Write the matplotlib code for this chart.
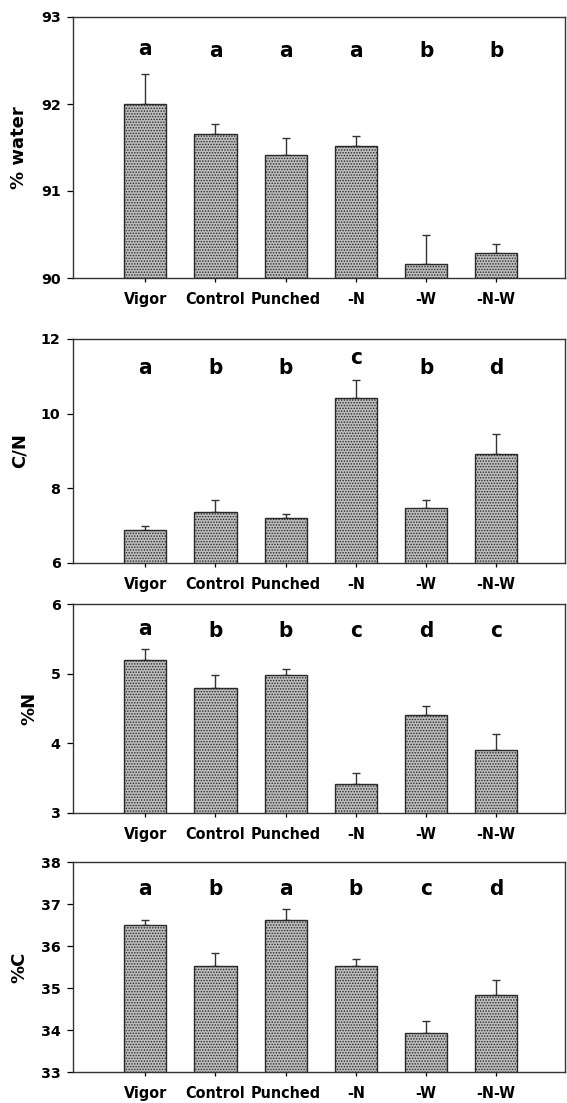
import numpy as np
import matplotlib.pyplot as plt
from matplotlib import transforms
from matplotlib import font_manager

# treatments
groups = ['Vigor', 'Control', 'Punched', '-N', '-W', '-N-W']

# panel data (mean, upper error, letter)
water = [92.0, 91.65, 91.41, 91.52, 90.16, 90.29]
water_err = [0.35, 0.12, 0.20, 0.11, 0.33, 0.10]
water_let = ['a', 'a', 'a', 'a', 'b', 'b']

cn = [6.89, 7.37, 7.21, 10.41, 7.47, 8.93]
cn_err = [0.10, 0.33, 0.10, 0.50, 0.21, 0.53]
cn_let = ['a', 'b', 'b', 'c', 'b', 'd']

pn = [5.20, 4.80, 4.98, 3.41, 4.41, 3.91]
pn_err = [0.16, 0.18, 0.09, 0.17, 0.13, 0.23]
pn_let = ['a', 'b', 'b', 'c', 'd', 'c']

pc = [36.51, 35.52, 36.62, 35.53, 33.93, 34.84]
pc_err = [0.12, 0.32, 0.25, 0.17, 0.28, 0.36]
pc_let = ['a', 'b', 'a', 'b', 'c', 'd']

ylabels = ['% water', 'C/N', '%N', '%C']
ylims = [(90, 93), (6, 12), (3, 6), (33, 38)]
yticks = [[90, 91, 92, 93], [6, 8, 10, 12], [3, 4, 5, 6], [33, 34, 35, 36, 37, 38]]

panels = [(water, water_err, water_let), (cn, cn_err, cn_let),
          (pn, pn_err, pn_let), (pc, pc_err, pc_let)]

# axes boxes in pixels (top, bottom)
W, H = 567, 1103
boxes = [(17, 278), (339, 563), (604, 813), (862, 1072)]

# condensed bold face for the category labels and letters
cond = font_manager.FontProperties(family='DejaVu Sans', weight='bold', stretch='condensed')

plt.rcParams['hatch.linewidth'] = 0.7

fig = plt.figure(figsize=(W / 100, H / 100), dpi=100)
x = np.arange(len(groups))

for (vals, errs, lets), yl, lim, tks, (top, bot) in zip(panels, ylabels, ylims, yticks, boxes):
    ax = fig.add_axes([73 / W, 1 - bot / H, (565 - 73) / W, (bot - top) / H])
    ax.bar(x, vals, width=0.6, color='#bdbdbd', edgecolor='#2a2a2a',
           linewidth=1.0, hatch='......', zorder=2)
    ax.errorbar(x, vals, yerr=[np.zeros(len(vals)), errs], fmt='none',
                ecolor='#333333', elinewidth=1.0, capsize=3, capthick=1.0, zorder=1)
    ax.set_xlim(-1.03, 5.98)
    ax.set_ylim(*lim)
    ax.set_yticks(tks)
    ax.set_yticklabels([str(t) for t in tks], fontfamily='DejaVu Sans',
                       fontweight='bold', fontsize=10.3)
    ax.set_xticks(x)
    ax.set_xticklabels(groups, fontproperties=cond, fontsize=11.5)
    ax.tick_params(axis='y', direction='out', length=4, width=0.9, pad=5)
    ax.tick_params(axis='x', direction='out', length=3, width=0.9, pad=7)
    ax.set_ylabel(yl, fontfamily='DejaVu Sans', fontweight='bold', fontsize=13, labelpad=9)
    for s in ax.spines.values():
        s.set_linewidth(1.0)
        s.set_color('#333333')
    # significance letters
    trans = transforms.blended_transform_factory(ax.transData, ax.transAxes)
    lo, hi = lim
    for xi, v, e, l in zip(x, vals, errs, lets):
        yf = max(0.87, (v + e - lo) / (hi - lo) + 0.095)
        ax.text(xi, yf, l, transform=trans, ha='center', va='center',
                fontproperties=cond, fontsize=16)

fig.savefig('out.png', dpi=100)
